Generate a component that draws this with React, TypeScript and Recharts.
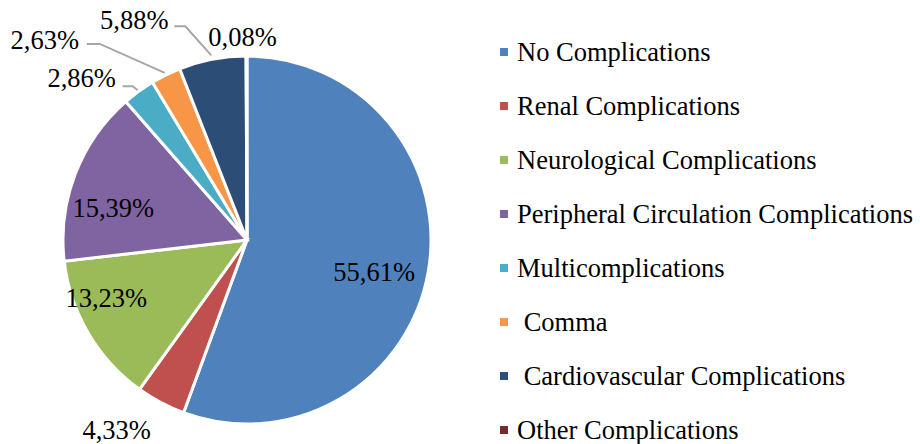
import { PieChart, Pie, Cell, Legend } from 'recharts';

const categories = [
  'No Complications',
  'Renal Complications',
  'Neurological Complications',
  'Peripheral Circulation Complications',
  'Multicomplications',
  '\u00a0Comma',
  '\u00a0Cardiovascular Complications',
  'Other Complications',
];

const shares = [55.61, 4.33, 13.23, 15.39, 2.86, 2.63, 5.88, 0.08];

const colors = ['#4F81BD', '#C0504D', '#9BBB59', '#8064A2', '#4BACC6', '#F79646', '#2C4D75', '#772C2A'];

const data = categories.map((name, i) => ({ name, value: shares[i] }));

// label placement relative to the slice's outer edge point (Excel "best fit" look)
const labelOffsets: { dx: number; dy: number; leader?: number[][] }[] = [
  { dx: -54, dy: 0 },
  { dx: -44, dy: 27 },
  { dx: 18, dy: -35 },
  { dx: 38, dy: 34 },
  { dx: -57, dy: -13, leader: [[-1, -1], [-6, -5], [-16, -5]] },
  { dx: -121, dy: -35, leader: [[-1, -2], [-66, -31], [-79, -31]] },
  { dx: -78, dy: -39, leader: [[-1, -4], [-27, -33], [-38, -33]] },
  { dx: -4, dy: -19 },
];

const FONT = '"Liberation Serif", "Times New Roman", serif';
const FONT_SIZE = 26.5;
const RADIAN = Math.PI / 180;

const renderLabel = (props: any) => {
  const { cx, cy, midAngle, outerRadius, index, value } = props;
  const ex = cx + outerRadius * Math.cos(-midAngle * RADIAN);
  const ey = cy + outerRadius * Math.sin(-midAngle * RADIAN);
  const o = labelOffsets[index];
  const text = value.toFixed(2).replace('.', ',') + '%';
  return (
    <g key={`lbl-${index}`}>
      {o.leader && (
        <polyline
          points={o.leader.map(([x, y]) => `${ex + x},${ey + y}`).join(' ')}
          fill="none"
          stroke="#A6A6A6"
          strokeWidth={2}
        />
      )}
      <text
        x={ex + o.dx}
        y={ey + o.dy}
        textAnchor="middle"
        dominantBaseline="central"
        style={{ fontFamily: FONT, fontSize: FONT_SIZE }}
        fill="#000"
      >
        {text}
      </text>
    </g>
  );
};

const renderLegend = () => (
  <div style={{ fontFamily: FONT, fontSize: FONT_SIZE, color: '#000' }}>
    {categories.map((c, i) => (
      <div key={c} style={{ height: 54, display: 'flex', alignItems: 'center', whiteSpace: 'pre' }}>
        <span style={{ width: 8, height: 8, background: colors[i], marginRight: 9, display: 'inline-block', flexShrink: 0 }} />
        <span>{c}</span>
      </div>
    ))}
  </div>
);

export default function App() {
  return (
    <div style={{ position: 'absolute', left: 0, top: 0, background: '#fff' }}>
      <PieChart width={920} height={444}>
        <Pie
          data={data}
          dataKey="value"
          nameKey="name"
          cx={242}
          cy={235}
          outerRadius={184}
          startAngle={90}
          endAngle={-270}
          stroke="#fff"
          strokeWidth={3}
          label={renderLabel}
          labelLine={false}
          isAnimationActive={false}
        >
          {data.map((d, i) => (
            <Cell key={d.name} fill={colors[i]} />
          ))}
        </Pie>
        <Legend
          content={renderLegend}
          layout="vertical"
          wrapperStyle={{ position: 'absolute', left: 500, top: 25, width: 420 }}
        />
      </PieChart>
    </div>
  );
}
